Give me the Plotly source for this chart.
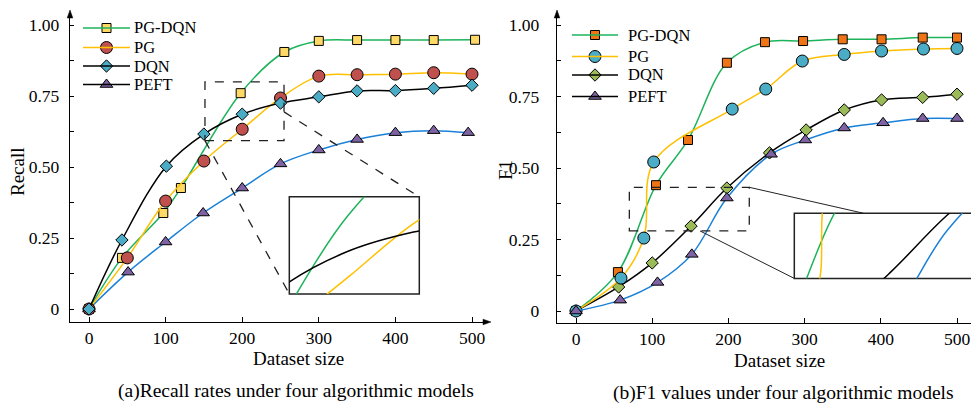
import plotly.graph_objects as go

W, H = 971, 403

# ---------------- data: (a) Recall ----------------
rec_pgdqn_x = [0, 43, 97, 120, 198, 255, 300, 350, 400, 450, 504]
rec_pgdqn_y = [0, 0.18, 0.338, 0.426, 0.76, 0.905, 0.944, 0.947, 0.947, 0.947, 0.948]
rec_pg_x = [0, 50, 100, 150, 200, 250, 300, 350, 400, 450, 500]
rec_pg_y = [0, 0.18, 0.38, 0.521, 0.633, 0.743, 0.82, 0.825, 0.827, 0.832, 0.827]
rec_dqn_x = [0, 43, 101, 150, 200, 250, 300, 350, 400, 450, 500]
rec_dqn_y = [0, 0.243, 0.503, 0.616, 0.686, 0.725, 0.747, 0.768, 0.769, 0.777, 0.788]
rec_peft_x = [0, 51, 100, 149, 200, 250, 300, 350, 400, 450, 495]
rec_peft_y = [0, 0.13, 0.236, 0.338, 0.426, 0.511, 0.56, 0.597, 0.621, 0.628, 0.621]

# ---------------- data: (b) F1 ----------------
f1_pgdqn_x = [0, 55, 105, 147, 198, 248, 298, 350, 401, 455, 500]
f1_pgdqn_y = [0, 0.136, 0.44, 0.598, 0.868, 0.94, 0.944, 0.95, 0.95, 0.956, 0.956]
f1_pg_x = [0, 59, 89, 102, 205, 249, 297, 352, 401, 456, 500]
f1_pg_y = [0, 0.115, 0.255, 0.521, 0.706, 0.776, 0.874, 0.897, 0.909, 0.916, 0.918]
f1_dqn_x = [0, 56, 100, 151, 198, 254, 302, 352, 401, 455, 500]
f1_dqn_y = [0, 0.084, 0.168, 0.297, 0.43, 0.553, 0.633, 0.703, 0.738, 0.747, 0.758]
f1_peft_x = [0, 58, 107, 152, 198, 256, 301, 352, 403, 455, 500]
f1_peft_y = [0, 0.038, 0.10, 0.198, 0.395, 0.548, 0.598, 0.64, 0.658, 0.673, 0.673]

names = ["PG-DQN", "PG", "DQN", "PEFT"]
x_ticks = [0, 100, 200, 300, 400, 500]
y_ticks = [0, 0.25, 0.5, 0.75, 1.0]
y_tick_text = ["0", "0.25", "0.50", "0.75", "1.00"]
y_minor = [0.125, 0.375, 0.625, 0.875]

GREEN = "#1DB35A"
YELLOW = "#FFC000"
BLACK = "#000000"
BLUE = "#1A80D8"
FONT = "Liberation Serif"

SYM = {"PG-DQN": ("square", 9), "PG": ("circle", 12), "DQN": ("diamond", 9.5), "PEFT": ("triangle-up", 11)}
FILL_A = {"PG-DQN": "#FFD966", "PG": "#C0504D", "DQN": "#4BACC6", "PEFT": "#7E62A3"}
FILL_B = {"PG-DQN": "#EE7415", "PG": "#4BACC6", "DQN": "#9BBB59", "PEFT": "#7E62A3"}
LINE = {"PG-DQN": GREEN, "PG": YELLOW, "DQN": BLACK, "PEFT": BLUE}
LEG_LINE = {"PG-DQN": GREEN, "PG": YELLOW, "DQN": BLACK, "PEFT": BLACK}

# ---------------- layout geometry (pixels) ----------------
def px(x):
    return x / W

def py(y):
    return 1 - y / H

L = dict(x0=70, x1=488, y0=322, y1=13, ox=89, sx=0.766, oy=309, sy=284)
R = dict(x0=557, x1=971, y0=323, y1=13, ox=576, sx=0.762, oy=311, sy=286)

def xr(P):
    return [(P["x0"] - P["ox"]) / P["sx"], (P["x1"] - P["ox"]) / P["sx"]]

def yr(P):
    return [(P["oy"] - P["y0"]) / P["sy"], (P["oy"] - P["y1"]) / P["sy"]]

def d2px(P, x, y):
    return P["ox"] + x * P["sx"], P["oy"] - y * P["sy"]

fig = go.Figure()

def add_series(name, xs, ys, fills, xa, ya):
    sym, size = SYM[name]
    fig.add_trace(go.Scatter(
        x=xs, y=ys, mode="lines+markers", xaxis=xa, yaxis=ya, showlegend=False, name=name,
        line=dict(color=LINE[name], width=1.5, shape="spline", smoothing=1.0),
        marker=dict(symbol=sym, size=size, color=fills[name], line=dict(color="#000", width=1)),
        hoverinfo="skip"))

def add_lines(name, xs, ys, xa, ya):
    fig.add_trace(go.Scatter(
        x=xs, y=ys, mode="lines", xaxis=xa, yaxis=ya, showlegend=False,
        line=dict(color=LINE[name], width=1.5, shape="spline", smoothing=1.0),
        hoverinfo="skip"))

rec = {"PG-DQN": (rec_pgdqn_x, rec_pgdqn_y), "PG": (rec_pg_x, rec_pg_y),
       "DQN": (rec_dqn_x, rec_dqn_y), "PEFT": (rec_peft_x, rec_peft_y)}
f1 = {"PG-DQN": (f1_pgdqn_x, f1_pgdqn_y), "PG": (f1_pg_x, f1_pg_y),
      "DQN": (f1_dqn_x, f1_dqn_y), "PEFT": (f1_peft_x, f1_peft_y)}

for n in ["PEFT", "PG-DQN", "PG", "DQN"]:
    add_series(n, *rec[n], FILL_A, "x", "y")
for n in ["PG-DQN", "DQN", "PG", "PEFT"]:
    add_series(n, *f1[n], FILL_B, "x2", "y2")
for n in ["PEFT", "PG-DQN", "PG", "DQN"]:
    add_lines(n, *rec[n], "x3", "y3")
for n in ["PG-DQN", "DQN", "PG", "PEFT"]:
    add_lines(n, *f1[n], "x4", "y4")

tickfont = dict(family=FONT, size=17.5, color="#000")

def main_x(P, anchor):
    return dict(domain=[px(P["x0"]), px(P["x1"])], range=xr(P), anchor=anchor,
                showline=True, linecolor="#000", linewidth=1.3, showgrid=False, zeroline=False,
                ticks="inside", ticklen=5, tickwidth=1, tickcolor="#000",
                tickvals=x_ticks, tickfont=tickfont, automargin=False, fixedrange=True)

def main_y(P, anchor, standoff):
    return dict(domain=[py(P["y0"]), py(P["y1"])], range=yr(P), anchor=anchor,
                showline=True, linecolor="#000", linewidth=1.3, showgrid=False, zeroline=False,
                ticks="inside", ticklen=4, tickwidth=1, tickcolor="#000",
                tickvals=y_ticks, ticktext=y_tick_text, tickfont=tickfont,
                ticklabelstandoff=standoff,
                minor=dict(tickvals=y_minor, ticks="inside", ticklen=4, tickwidth=1, tickcolor="#000"),
                automargin=False, fixedrange=True)

# zoom rectangles (data coords) and inset boxes (data coords of the main panel)
L_rect = dict(x0=151.4, x1=254.6, y0=0.593, y1=0.80)
L_box = dict(x0=261.5, x1=431.2, y0=0.053, y1=0.395)
R_rect = dict(x0=70.0, x1=227.4, y0=0.28, y1=0.4325)
R_box = dict(x0=286.5, x1=522.0, y0=0.114, y1=0.342)
R_inset_xspan = 147.0   # data span visible across the (cut-off) right inset

def inset_axes(P, rect, box, anchor_x, anchor_y, xspan=None):
    bx0, by0 = d2px(P, box["x0"], box["y0"])
    bx1, by1 = d2px(P, box["x1"], box["y1"])
    vis_x1 = min(bx1, W)
    if xspan is None:
        xspan = (rect["x1"] - rect["x0"]) * (vis_x1 - bx0) / (bx1 - bx0)
    xa = dict(domain=[px(bx0), px(vis_x1)], anchor=anchor_y,
              range=[rect["x0"], rect["x0"] + xspan],
              visible=False, showgrid=False, zeroline=False, fixedrange=True)
    ya = dict(domain=[py(by0), py(by1)], range=[rect["y0"], rect["y1"]], anchor=anchor_x,
              visible=False, showgrid=False, zeroline=False, fixedrange=True)
    return xa, ya

x3, y3 = inset_axes(L, L_rect, L_box, "x3", "y3")
x4, y4 = inset_axes(R, R_rect, R_box, "x4", "y4", R_inset_xspan)

shapes = []
DASH = dict(color="#222", width=1.3, dash="dash")
shapes.append(dict(type="rect", xref="x", yref="y", **L_rect, line=DASH))
shapes.append(dict(type="rect", xref="x", yref="y", **L_box, fillcolor="white",
                   layer="below", line=dict(color="#222", width=1.5)))
shapes.append(dict(type="line", xref="x", yref="y", x0=L_rect["x0"], y0=L_rect["y0"],
                   x1=L_box["x0"], y1=L_box["y0"], line=DASH))
shapes.append(dict(type="line", xref="x", yref="y", x0=L_rect["x1"], y0=0.694,
                   x1=L_box["x1"], y1=L_box["y1"], line=DASH))
shapes.append(dict(type="rect", xref="x2", yref="y2", **R_rect, line=DASH))
shapes.append(dict(type="rect", xref="x2", yref="y2", **R_box, fillcolor="white", layer="below",
                   line=dict(color="#222", width=1.5)))
shapes.append(dict(type="line", xref="x2", yref="y2", x0=R_rect["x1"], y0=R_rect["y1"],
                   x1=377, y1=R_box["y1"], line=dict(color="#222", width=1)))
shapes.append(dict(type="line", xref="x2", yref="y2", x0=162.7, y0=R_rect["y0"],
                   x1=R_box["x0"], y1=R_box["y0"], line=dict(color="#222", width=1)))

def tri(tipx, tipy, direction):
    if direction == "up":
        pts = [(tipx, tipy), (tipx - 2.8, tipy + 8), (tipx + 2.8, tipy + 8)]
    else:
        pts = [(tipx, tipy), (tipx - 8, tipy - 2.8), (tipx - 8, tipy + 2.8)]
    d = "M " + " L ".join(f"{px(a):.5f},{py(b):.5f}" for a, b in pts) + " Z"
    return dict(type="path", xref="paper", yref="paper", path=d,
                fillcolor="#000", line=dict(color="#000", width=0.5))

shapes.append(tri(L["x0"], 10, "up"))
shapes.append(tri(L["x1"] + 3, L["y0"], "right"))
shapes.append(tri(R["x0"], 10, "up"))

def txt(text, x, y, size, angle=0, xanchor="center"):
    return dict(text=text, x=px(x), y=py(y), xref="paper", yref="paper", showarrow=False,
                xanchor=xanchor, yanchor="middle", textangle=angle,
                font=dict(family=FONT, size=size, color="#000"))

annotations = [
    txt("Recall", 17, 172, 19, -90),
    txt("Dataset size", 298, 358, 19),
    txt("(a)Recall rates under four algorithmic models", 296, 391, 19.5),
    txt("F1", 505, 170, 19, -90),
    txt("Dataset size", 779, 360, 19),
    txt("(b)F1 values under four algorithmic models", 783, 393, 19.5),
]

# ---------------- hand-drawn legends (key line + marker + label) ----------------
legend_specs = [
    dict(x0=83, x1=130, rows=[28, 47.5, 66, 84.5], tx=132, fills=FILL_A),
    dict(x0=572, x1=618, rows=[35, 56.5, 75, 96.5], tx=626, fills=FILL_B),
]
for spec in legend_specs:
    for n, ry in zip(names, spec["rows"]):
        shapes.append(dict(type="line", xref="paper", yref="paper",
                           x0=px(spec["x0"]), x1=px(spec["x1"]), y0=py(ry), y1=py(ry),
                           line=dict(color=LEG_LINE[n], width=1.5)))
        sym, size = SYM[n]
        fig.add_trace(go.Scatter(
            x=[(spec["x0"] + spec["x1"]) / 2], y=[ry], mode="markers", xaxis="x5", yaxis="y5",
            showlegend=False, hoverinfo="skip",
            marker=dict(symbol=sym, size=size, color=spec["fills"][n], line=dict(color="#000", width=1))))
        annotations.append(txt(n, spec["tx"], ry, 16.5, xanchor="left"))

fig.update_layout(
    width=W, height=H, template="none",
    margin=dict(l=0, r=0, t=0, b=0, autoexpand=False),
    paper_bgcolor="white", plot_bgcolor="rgba(0,0,0,0)",
    xaxis=main_x(L, "y"), yaxis=main_y(L, "x", 6),
    xaxis2=main_x(R, "y2"), yaxis2=main_y(R, "x2", 13),
    xaxis3=x3, yaxis3=y3, xaxis4=x4, yaxis4=y4,
    xaxis5=dict(domain=[0, 1], range=[0, W], anchor="y5", visible=False, fixedrange=True),
    yaxis5=dict(domain=[0, 1], range=[H, 0], anchor="x5", visible=False, fixedrange=True),
    shapes=shapes, annotations=annotations,
    showlegend=False,
)

fig.write_html("out.html", config={"displayModeBar": False},
               post_script="document.body.style.margin='0';")
